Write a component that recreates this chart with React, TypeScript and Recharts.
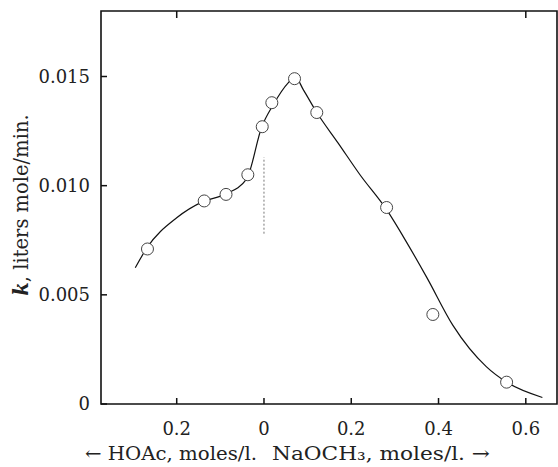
import {
  ComposedChart,
  Line,
  Scatter,
  XAxis,
  YAxis,
  ReferenceLine,
  ReferenceArea,
} from "recharts";

// concentration axis: negative = HOAc, positive = NaOCH3 (moles/l.)
const curveX = [
  -0.295, -0.268, -0.2, -0.14, -0.09, -0.04, -0.005, 0.021, 0.055, 0.072, 0.09,
  0.121, 0.17, 0.22, 0.281, 0.33, 0.373, 0.433, 0.51, 0.556, 0.638,
];
const curveK = [
  0.00624, 0.00716, 0.00853, 0.00927, 0.0096, 0.0103, 0.0127, 0.0137, 0.0147,
  0.01497, 0.0144, 0.01335, 0.01195, 0.0105, 0.0089, 0.0073, 0.0058, 0.0036,
  0.0017, 0.001, 0.0003,
];

const pointX = [-0.267, -0.137, -0.087, -0.037, -0.004, 0.018, 0.07, 0.121, 0.281, 0.387, 0.556];
const pointK = [0.0071, 0.0093, 0.0096, 0.0105, 0.0127, 0.0138, 0.0149, 0.01335, 0.009, 0.0041, 0.001];

const xTicks = [-0.2, 0, 0.2, 0.4, 0.6];
const yTicks = [0, 0.005, 0.01, 0.015];
const topTicks = [-0.2, 0.6];
const xDomain = [-0.3735, 0.6715];
const yDomain = [0, 0.018];

const curve = curveX.map((x, i) => ({ x, k: curveK[i] }));
const points = pointX.map((x, i) => ({ x, k: pointK[i] }));

const FONT = "'DejaVu Serif', serif";
const INK = "#111";

const fmtX = (v: number) => (v === 0 ? "0" : Math.abs(v).toFixed(1));
const fmtY = (v: number) => (v === 0 ? "0" : v.toFixed(3));

// ticks point inward, labels sit outside
function BottomTick({ x, y, payload }: any) {
  return (
    <g>
      <rect x={x - 0.75} y={y - 6} width={1.5} height={6} fill={INK} />
      <text x={x} y={y + 31} textAnchor="middle" fontFamily={FONT} fontSize={18} fill="#222">
        {fmtX(payload.value)}
      </text>
    </g>
  );
}

function TopTick({ x, y }: any) {
  return <rect x={x - 0.75} y={y} width={1.5} height={7} fill={INK} />;
}

function LeftTick({ x, y, payload }: any) {
  return (
    <g>
      <rect x={x} y={y - 0.75} width={6} height={1.5} fill={INK} />
      <text x={x - 11} y={y} dy="0.36em" textAnchor="end" fontFamily={FONT} fontSize={18} fill="#222">
        {fmtY(payload.value)}
      </text>
    </g>
  );
}

function YTitle() {
  return (
    <text
      transform="translate(28, 205) rotate(-90)"
      textAnchor="middle"
      fontFamily={FONT}
      fontSize={19.5}
      fill="#222"
    >
      <tspan fontStyle="italic" fontWeight="bold">k</tspan>
      <tspan>, liters mole/min.</tspan>
    </text>
  );
}

function XTitle() {
  return (
    <g fontFamily={FONT} fontSize={19} fill="#222">
      <text x={85} y={460} textLength={172} lengthAdjust="spacingAndGlyphs">
        ← HOAc, moles/l.
      </text>
      <text x={272} y={460} textLength={218} lengthAdjust="spacingAndGlyphs">
        NaOCH₃, moles/l. →
      </text>
    </g>
  );
}

export default function App() {
  return (
    <div style={{ position: "absolute", left: 0, top: 0, background: "#fff" }}>
      <ComposedChart
        width={558}
        height={467}
        margin={{ top: 10, right: 1, bottom: 0, left: 41 }}
      >
        <XAxis
          dataKey="x"
          type="number"
          domain={xDomain}
          ticks={xTicks}
          allowDataOverflow
          height={63}
          axisLine={false}
          tickLine={false}
          tickSize={0}
          tickMargin={0}
          tick={<BottomTick />}
          label={<XTitle />}
        />
        <XAxis
          xAxisId="top"
          orientation="top"
          dataKey="x"
          type="number"
          domain={xDomain}
          ticks={topTicks}
          allowDataOverflow
          height={1}
          axisLine={false}
          tickLine={false}
          tickSize={0}
          tickMargin={0}
          tick={<TopTick />}
        />
        <YAxis
          dataKey="k"
          type="number"
          domain={yDomain}
          ticks={yTicks}
          allowDataOverflow
          width={60}
          axisLine={false}
          tickLine={false}
          tickSize={0}
          tickMargin={0}
          tick={<LeftTick />}
          label={<YTitle />}
        />
        {/* plot frame: left, bottom and top edges of the data area */}
        <ReferenceArea
          x1={xDomain[0]}
          x2={xDomain[1]}
          y1={yDomain[0]}
          y2={yDomain[1]}
          fill="none"
          stroke={INK}
          strokeWidth={1.6}
          ifOverflow="visible"
        />
        <ReferenceLine
          segment={[
            { x: 0, y: 0.0078 },
            { x: 0, y: 0.0113 },
          ]}
          stroke="#777"
          strokeDasharray="2 2"
        />
        <Line
          data={curve}
          dataKey="k"
          type="monotone"
          stroke="#111"
          strokeWidth={1.2}
          dot={false}
          isAnimationActive={false}
        />
        <Scatter
          data={points}
          dataKey="k"
          isAnimationActive={false}
          shape={(p: any) => (
            <circle cx={p.cx} cy={p.cy} r={6} fill="#fff" stroke="#444" strokeWidth={1} />
          )}
        />
      </ComposedChart>
    </div>
  );
}
